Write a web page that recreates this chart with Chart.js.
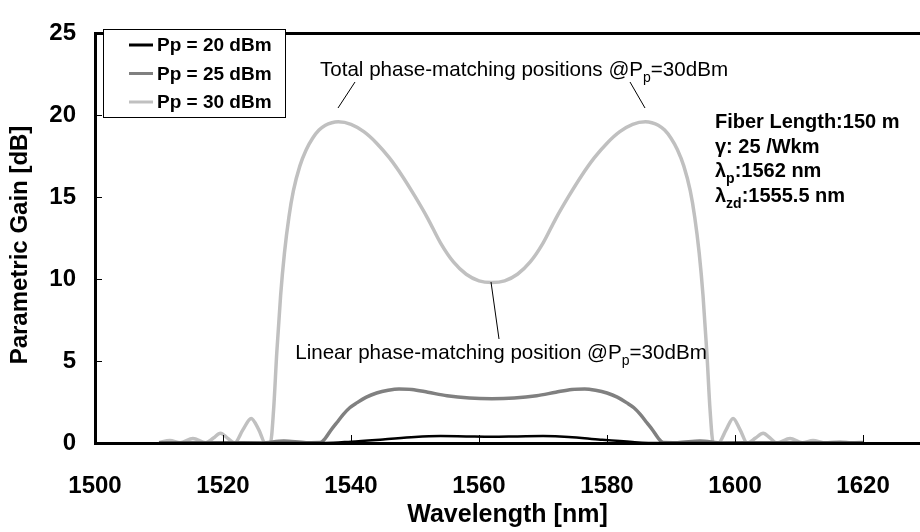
<!DOCTYPE html>
<html>
<head>
<meta charset="utf-8">
<title>Parametric Gain</title>
<script src="https://cdn.jsdelivr.net/npm/chart.js@4.4.1/dist/chart.umd.min.js"></script>
<style>
    html, body { margin: 0; padding: 0; background: #fff; }
    canvas { display: block; }
</style>
</head>
<body>
<canvas id="gainChart" width="920" height="532"></canvas>
<script>
// values: wavelength [nm] / gain [dB]
const lambda20 = [1510, 1536, 1540, 1545, 1550, 1554, 1558, 1562, 1566, 1570, 1574, 1579, 1584, 1588, 1620];
const gain20 = [0, 0, 0.08, 0.22, 0.37, 0.42, 0.4, 0.38, 0.4, 0.42, 0.37, 0.2, 0.06, 0, 0];

const lambda25 = [1510, 1520, 1526, 1529.5, 1533,
    1535.2, 1536, 1536.8, 1537.8, 1538.8, 1539.8, 1540.9, 1542.4, 1544, 1545.8, 1547.5, 1549.5,
    1552, 1555, 1558.5, 1562, 1565.5, 1569, 1572,
    1574.5, 1576.5, 1578.2, 1580, 1581.6, 1583.1, 1584.2, 1585.2, 1586.2, 1587.2, 1588, 1588.8,
    1591, 1594.5, 1598, 1605, 1620];
const gain25 = [0, 0.02, 0, 0.12, 0.02,
    0.03, 0.3, 0.75, 1.25, 1.75, 2.15, 2.45, 2.8, 3.05, 3.22, 3.3, 3.27,
    3.1, 2.88, 2.74, 2.7, 2.74, 2.88, 3.1,
    3.27, 3.3, 3.22, 3.05, 2.8, 2.45, 2.15, 1.75, 1.25, 0.75, 0.3, 0.03,
    0.02, 0.12, 0, 0.02, 0];

const lambda30 = [1510, 1511.7, 1513.3, 1515.3, 1517.3, 1518.5, 1519.6, 1520.7, 1521.8,
    1523.1, 1524.4, 1525.6, 1526.6,
    1527.4, 1527.9, 1528.4, 1529.0, 1529.6, 1530.3, 1531.0, 1532.0, 1533.0, 1534.0, 1535.0, 1536.0, 1537.0,
    1538, 1540, 1542, 1544, 1546, 1548, 1550, 1552, 1554, 1556, 1558, 1560, 1562,
    1564, 1566, 1568, 1570, 1572, 1574, 1576, 1578, 1580, 1582, 1584, 1586,
    1587, 1588, 1589, 1590, 1591, 1592, 1593, 1593.7, 1594.4, 1595.0, 1595.6, 1596.1, 1596.6,
    1597.4, 1598.6, 1599.7, 1600.8, 1601.9, 1603.2, 1604.4, 1605.5, 1606.5,
    1608.6, 1610.5, 1612.2, 1614.0, 1616.4, 1618.2, 1620];
const gain30 = [0.02, 0.15, 0.01, 0.28, 0.02, 0.3, 0.6, 0.3, 0,
    0.8, 1.5, 0.8, 0,
    0, 2.0, 5.5, 9.0, 11.6, 13.8, 15.4, 16.9, 17.9, 18.6, 19.1, 19.4, 19.55,
    19.6, 19.45, 19.0, 18.3, 17.4, 16.3, 15.05, 13.7, 12.2, 11.05, 10.3, 9.9, 9.8,
    9.9, 10.3, 11.05, 12.2, 13.7, 15.05, 16.3, 17.4, 18.3, 19.0, 19.45, 19.6,
    19.55, 19.4, 19.1, 18.6, 17.9, 16.9, 15.4, 13.8, 11.6, 9.0, 5.5, 2.0, 0,
    0, 0.8, 1.5, 0.8, 0, 0.3, 0.6, 0.3, 0,
    0.28, 0.02, 0.15, 0, 0.08, 0.01, 0.04];

const seriesLabels = ['Pp = 20 dBm', 'Pp = 25 dBm', 'Pp = 30 dBm'];
const seriesColors = ['#000000', '#808080', '#c0c0c0'];

const xTicks = [1500, 1520, 1540, 1560, 1580, 1600, 1620];
const yTicks = [0, 5, 10, 15, 20, 25];

const infoLines = [
    [['Fiber Length:150 m', false]],
    [['\u03b3: 25 /Wkm', false]],
    [['\u03bb', false], ['p', true], [':1562 nm', false]],
    [['\u03bb', false], ['zd', true], [':1555.5 nm', false]],
];

const FONT = '"Liberation Sans", Arial, sans-serif';

function toPoints(xs, ys) {
    return xs.map(function (x, i) { return { x: x, y: ys[i] }; });
}

// text with subscripts: parts = [[text, isSub], ...]
function drawRich(ctx, parts, x, y, size, weight) {
    let cx = x;
    parts.forEach(function (p) {
        const sub = p[1];
        ctx.font = weight + ' ' + (sub ? Math.round(size * 0.68) : size) + 'px ' + FONT;
        ctx.fillText(p[0], cx, sub ? y + size * 0.3 : y);
        cx += ctx.measureText(p[0]).width;
    });
    return cx;
}

function richWidth(ctx, parts, size, weight) {
    let w = 0;
    parts.forEach(function (p) {
        ctx.font = weight + ' ' + (p[1] ? Math.round(size * 0.68) : size) + 'px ' + FONT;
        w += ctx.measureText(p[0]).width;
    });
    return w;
}

const framePlugin = {
    id: 'frame',
    afterDatasetsDraw: function (chart) {
        const ctx = chart.ctx;
        const a = chart.chartArea;
        const xs = chart.scales.x;
        const ys = chart.scales.y;
        ctx.save();
        ctx.strokeStyle = '#000';
        // inward tick marks
        ctx.lineWidth = 1;
        ctx.beginPath();
        xTicks.forEach(function (v) {
            const px = Math.round(xs.getPixelForValue(v)) + 0.5;
            ctx.moveTo(px, a.bottom);
            ctx.lineTo(px, a.bottom - 8);
        });
        yTicks.forEach(function (v) {
            const py = Math.round(ys.getPixelForValue(v)) + 0.5;
            ctx.moveTo(a.left, py);
            ctx.lineTo(a.left + 7, py);
        });
        ctx.stroke();
        // top border
        ctx.lineWidth = 3;
        ctx.beginPath();
        ctx.moveTo(a.left - 1, a.top);
        ctx.lineTo(a.right, a.top);
        ctx.stroke();
        ctx.restore();
    },
    afterDraw: function (chart) {
        const ctx = chart.ctx;
        ctx.save();

        // y axis title
        ctx.save();
        ctx.translate(20, 245);
        ctx.rotate(-Math.PI / 2);
        ctx.textAlign = 'center';
        ctx.textBaseline = 'middle';
        ctx.fillStyle = '#000';
        ctx.font = 'bold 24px ' + FONT;
        ctx.fillText('Parametric Gain [dB]', 0, 0);
        ctx.restore();

        // legend box
        ctx.fillStyle = '#fff';
        ctx.fillRect(103, 29, 182, 88);
        ctx.strokeStyle = '#000';
        ctx.lineWidth = 1;
        ctx.strokeRect(103.5, 29.5, 182, 88);
        ctx.textBaseline = 'middle';
        seriesLabels.forEach(function (lab, i) {
            const y = 45 + i * 28.5;
            ctx.strokeStyle = seriesColors[i];
            ctx.lineWidth = 3;
            ctx.beginPath();
            ctx.moveTo(129, y);
            ctx.lineTo(153, y);
            ctx.stroke();
            ctx.fillStyle = '#000';
            ctx.font = 'bold 19px ' + FONT;
            ctx.fillText(lab, 157, y + 1);
        });

        // annotations
        ctx.textBaseline = 'alphabetic';
        ctx.fillStyle = '#000';
        const topNote = [['Total phase-matching positions @P', false], ['p', true], ['=30dBm', false]];
        const lowNote = [['Linear phase-matching position @P', false], ['p', true], ['=30dBm', false]];
        const w1 = richWidth(ctx, topNote, 20.6, 'normal');
        drawRich(ctx, topNote, 524 - w1 / 2, 76, 20.6, 'normal');
        const w2 = richWidth(ctx, lowNote, 20.6, 'normal');
        drawRich(ctx, lowNote, 501 - w2 / 2, 359, 20.6, 'normal');

        ctx.strokeStyle = '#000';
        ctx.lineWidth = 1;
        ctx.beginPath();
        ctx.moveTo(355, 82); ctx.lineTo(338, 108);
        ctx.moveTo(630, 82); ctx.lineTo(645, 108);
        ctx.moveTo(491, 282); ctx.lineTo(499, 339);
        ctx.stroke();

        // fiber parameters
        infoLines.forEach(function (parts, i) {
            drawRich(ctx, parts, 715, 128 + i * 24.7, 20, 'bold');
        });
        ctx.restore();
    }
};

function initGainChart() {
    const canvas = document.getElementById('gainChart');
    if (!canvas || typeof Chart === 'undefined') return null;

    const lambdas = [lambda20, lambda25, lambda30];
    const gains = [gain20, gain25, gain30];
    const widths = [2.5, 3.5, 3.5];

    return new Chart(canvas.getContext('2d'), {
        type: 'line',
        data: {
            datasets: seriesLabels.map(function (lab, i) {
                return {
                    label: lab,
                    data: toPoints(lambdas[i], gains[i]),
                    borderColor: seriesColors[i],
                    backgroundColor: seriesColors[i],
                    borderWidth: widths[i],
                    pointRadius: 0,
                    fill: false,
                    cubicInterpolationMode: 'monotone',
                };
            }),
        },
        options: {
            responsive: false,
            animation: false,
            layout: { padding: { top: 18, right: 0, left: 0, bottom: 0 } },
            plugins: { legend: { display: false }, tooltip: { enabled: false } },
            scales: {
                x: {
                    type: 'linear',
                    min: 1500,
                    max: 1628.9,
                    afterFit: function (scale) { scale.height = 89; },
                    afterBuildTicks: function (scale) {
                        scale.ticks = xTicks.map(function (v) { return { value: v }; });
                    },
                    ticks: {
                        color: '#000',
                        padding: 29,
                        maxRotation: 0,
                        callback: function (v) { return String(v); },
                        font: { family: FONT, size: 24, weight: 'bold' },
                    },
                    grid: { display: false, drawTicks: false },
                    border: { display: true, color: '#000', width: 3 },
                    title: {
                        display: true,
                        text: 'Wavelength [nm]',
                        color: '#000',
                        padding: { top: 0, bottom: 2 },
                        font: { family: FONT, size: 25, weight: 'bold' },
                    },
                },
                y: {
                    min: 0,
                    max: 25,
                    afterFit: function (scale) { scale.width = 95; },
                    afterBuildTicks: function (scale) {
                        scale.ticks = yTicks.map(function (v) { return { value: v }; });
                    },
                    ticks: {
                        color: '#000',
                        padding: 19,
                        font: { family: FONT, size: 24, weight: 'bold' },
                    },
                    grid: { display: false, drawTicks: false },
                    border: { display: true, color: '#000', width: 3 },
                },
            },
        },
        plugins: [framePlugin],
    });
}

initGainChart();
</script>
</body>
</html>
